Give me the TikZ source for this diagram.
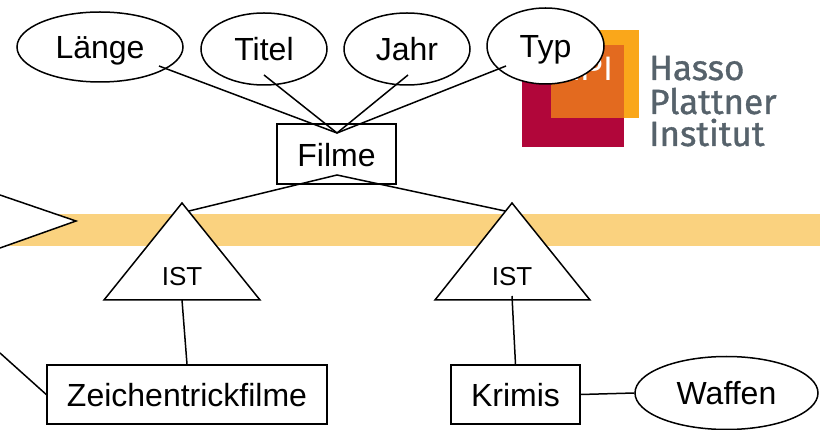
\documentclass[tikz,border=0pt]{standalone}
\usepackage{fontspec}
\setmainfont{Liberation Sans}
\newfontfamily\logofont[FakeBold=1]{Fira Sans}
\usetikzlibrary{calc,shapes.geometric}
\definecolor{band}{HTML}{FAD27F}
\definecolor{hpired}{HTML}{B1063A}
\definecolor{hpiorange}{HTML}{E36A1F}
\definecolor{hpiyellow}{HTML}{FAA71A}
\definecolor{hpigrey}{HTML}{56626B}
\tikzset{
  er/.style={draw=black,line width=1.5pt},
  attr/.style={er,fill=white,ellipse,inner sep=0pt,text height=23pt,text depth=0pt,font=\fontsize{32}{32}\selectfont},
  entity/.style={er,fill=white,rectangle,inner sep=0pt,text height=25pt,text depth=0pt,font=\fontsize{32}{32}\selectfont},
  tritext/.style={inner sep=0pt,font=\fontsize{26}{26}\selectfont},
  tri/.style={er,fill=white,line join=miter},
  conn/.style={draw=black,line width=1.5pt},
  logotext/.style={inner sep=0pt,anchor=base west,text=hpigrey,text height=25pt,text depth=0pt,font=\logofont\fontsize{35}{35}\selectfont}
}
\begin{document}
\begin{tikzpicture}[x=1pt,y=-1pt]
\useasboundingbox (0,0) rectangle (820,430);
\fill[band] (0,214) rectangle (820,246);
% logo
\fill[hpired] (522,45) rectangle (624,147);
\fill[hpiyellow] (566,30) rectangle (639,118);
\fill[hpiorange] (551,45) rectangle (624,118);
\node[inner sep=0pt,anchor=base east,text=white,font=\fontsize{34}{34}\selectfont] (hpi) at (613,81) {HPI};
\node[logotext] (l1) at (649,80) {Hasso};
\node[logotext] (l2) at (649,114) {Plattner};
\node[logotext] (l3) at (649,146) {Institut};
% attributes
\node[attr,minimum width=166pt,minimum height=70pt] (laenge) at (100,47) {Länge};
\node[attr,minimum width=126pt,minimum height=72pt] (titel) at (264,49) {Titel};
\node[attr,minimum width=126pt,minimum height=72pt] (jahr) at (407,49) {Jahr};
\node[attr,minimum width=117pt,minimum height=76pt] (typ) at (545.5,46) {Typ};
\node[attr,minimum width=183pt,minimum height=73pt] (waffen) at (726.5,393) {Waffen};
% entities
\node[entity,minimum width=119pt,minimum height=60pt] (filme) at (336.5,154) {Filme};
\node[entity,minimum width=280pt,minimum height=59pt] (zeichen) at (187,394.5) {Zeichentrickfilme};
\node[entity,minimum width=129pt,minimum height=59pt] (krimis) at (515.5,394.5) {Krimis};
% hub points
\coordinate (hubtop) at ($(filme)+(0.5,-21)$);
\coordinate (hubbot) at ($(filme)+(0.5,21)$);
% triangles
\draw[tri] (182,203) -- (260,300) -- (104,300) -- cycle;
\draw[tri] (512,203) -- (590,300) -- (435,300) -- cycle;
\node[tritext] (ist1) at (182,277) {IST};
\node[tritext] (ist2) at (512,277) {IST};
\node[inner sep=0pt] (tri1top) at (189,211) {};
\node[inner sep=0pt] (tri2top) at (505,211) {};
\coordinate (tri1bot) at (182,300);
\coordinate (tri2bot) at (512,296);
% left cropped triangle and line
\coordinate (lefta) at (0,195);
\coordinate (leftb) at (0,248);
\coordinate (lefttip) at (76,221);
\coordinate (leftc) at (0,353);
\draw[conn,fill=white,line join=miter] (lefta) -- (lefttip) -- (leftb);
\draw[conn] (leftc) -- (zeichen.west);
% connectors
\draw[conn] ($(laenge)+(59,19)$) -- (hubtop);
\draw[conn] ($(titel)+(0,26)$) -- (hubtop);
\draw[conn] ($(jahr)+(1,26)$) -- (hubtop);
\draw[conn] ($(typ)+(-39.5,20)$) -- (hubtop);
\draw[conn] (tri1top.center) -- (hubbot) -- (tri2top.center);
\draw[conn] (tri1bot) -- (zeichen.north);
\draw[conn] (tri2bot) -- (krimis.north);
\draw[conn] (krimis.east) -- (waffen.west);
\end{tikzpicture}
\end{document}
